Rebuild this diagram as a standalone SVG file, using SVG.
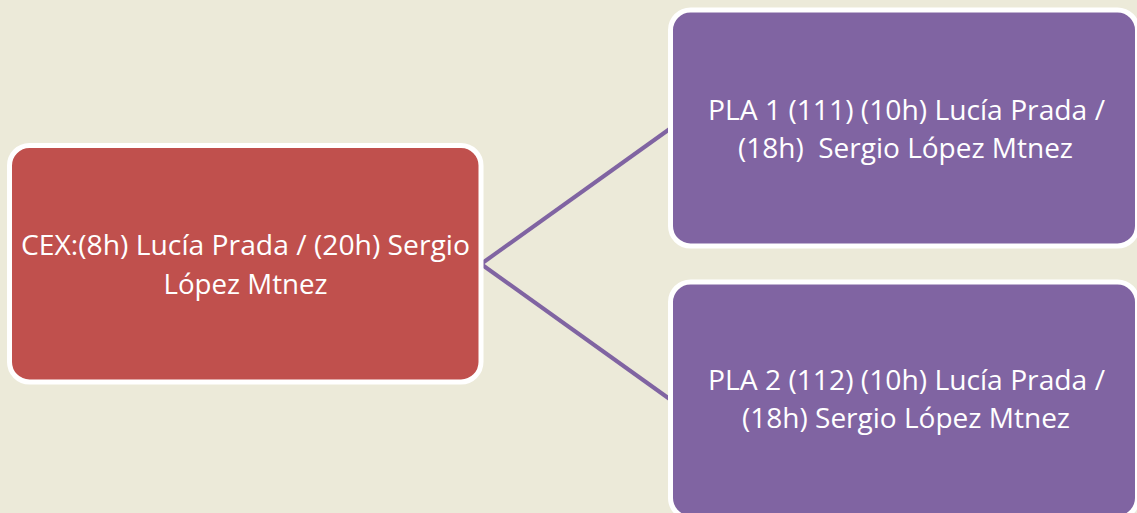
<svg xmlns="http://www.w3.org/2000/svg" width="1137" height="513" viewBox="0 0 1137 513">
<style>
.bg{fill:#ECEAD9}
.box{stroke:#FFFFFF;stroke-width:5}
.red{fill:#C0504D}
.pur{fill:#8064A2}
.conn{stroke:#8064A2;stroke-width:4;fill:none}
text{font-family:"Open Sans","Noto Sans",sans-serif;font-size:27px;fill:#FFFFFF;text-anchor:middle}
</style>
<rect class="bg" x="0" y="0" width="1137" height="513"/>
<g id="connectors">
<line class="conn" x1="481" y1="264" x2="671" y2="128"/>
<line class="conn" x1="481" y1="264" x2="671" y2="400"/>
</g>
<g id="cex">
<rect class="box red" x="9.5" y="145.5" width="471.5" height="236.5" rx="20"/>
<text x="245.5" y="255" textLength="449" lengthAdjust="spacingAndGlyphs">CEX:(8h) Lucía Prada / (20h) Sergio</text>
<text x="245.5" y="294" textLength="164" lengthAdjust="spacingAndGlyphs">López Mtnez</text>
</g>
<g id="pla1">
<rect class="box pur" x="670.5" y="10" width="467" height="236" rx="20"/>
<text x="906.5" y="120" textLength="397" lengthAdjust="spacingAndGlyphs">PLA 1 (111) (10h) Lucía Prada /</text>
<text x="905.5" y="158" textLength="335" lengthAdjust="spacingAndGlyphs" xml:space="preserve">(18h)  Sergio López Mtnez</text>
</g>
<g id="pla2">
<rect class="box pur" x="670.5" y="282" width="467" height="236" rx="20"/>
<text x="906.5" y="390" textLength="397" lengthAdjust="spacingAndGlyphs">PLA 2 (112) (10h) Lucía Prada /</text>
<text x="906" y="428" textLength="328" lengthAdjust="spacingAndGlyphs">(18h) Sergio López Mtnez</text>
</g>
</svg>
